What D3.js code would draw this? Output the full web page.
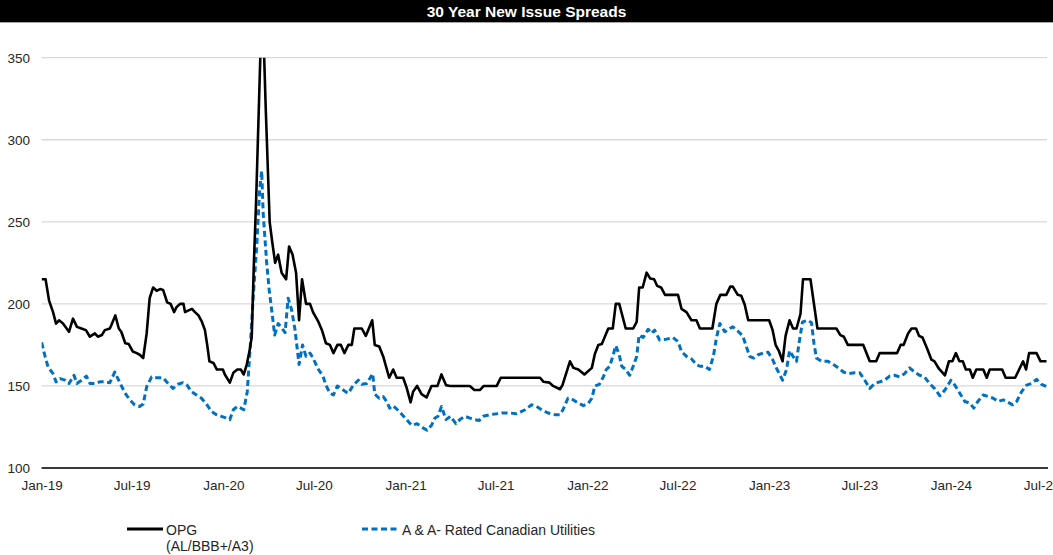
<!DOCTYPE html>
<html>
<head>
<meta charset="utf-8">
<script src="https://cdn.jsdelivr.net/npm/d3@7"></script>
<style>
  html, body { margin: 0; padding: 0; background: #fff; }
  svg { display: block; font-family: "Liberation Sans", Arial, sans-serif; }
</style>
</head>
<body>
<svg id="chart" width="1053" height="555"></svg>
<script>
// ---- data -------------------------------------------------------------
const chartTitle = "30 Year New Issue Spreads";

const yTicks = [100, 150, 200, 250, 300, 350];

const xTickDates = ["2019-01-01", "2019-07-01", "2020-01-01", "2020-07-01", "2021-01-01", "2021-07-01",
                    "2022-01-01", "2022-07-01", "2023-01-01", "2023-07-01", "2024-01-01", "2024-07-01"];
const xTickLabels = ["Jan-19", "Jul-19", "Jan-20", "Jul-20", "Jan-21", "Jul-21",
                     "Jan-22", "Jul-22", "Jan-23", "Jul-23", "Jan-24", "Jul-24"];

const seriesNames = ["OPG", "A & A- Rated Canadian Utilities"];
const opgSubLabel = "(AL/BBB+/A3)";

// OPG (AL/BBB+/A3) new issue spread, bps
const opgDates = [
  "2019-01-01","2019-01-09","2019-01-16","2019-01-24","2019-01-30","2019-02-05","2019-02-13","2019-02-25",
  "2019-03-05","2019-03-13","2019-03-22","2019-03-31","2019-04-08","2019-04-18","2019-04-24","2019-05-02",
  "2019-05-08","2019-05-18","2019-05-21","2019-05-29","2019-06-05","2019-06-10","2019-06-18","2019-06-25",
  "2019-07-03","2019-07-11","2019-07-17","2019-07-24","2019-07-31","2019-08-06","2019-08-13","2019-08-20",
  "2019-08-27","2019-09-02","2019-09-10","2019-09-17","2019-09-24","2019-09-29","2019-10-06","2019-10-13",
  "2019-10-16","2019-10-23","2019-10-30","2019-11-05","2019-11-12","2019-11-19","2019-11-25","2019-11-30",
  "2019-12-04","2019-12-12","2019-12-19","2019-12-31",
  "2020-01-04","2020-01-14","2020-01-21","2020-01-29","2020-02-05","2020-02-11","2020-02-17","2020-02-23",
  "2020-02-27","2020-03-02","2020-03-07","2020-03-19","2020-03-26","2020-04-03","2020-04-08","2020-04-14",
  "2020-04-20","2020-04-27","2020-05-06","2020-05-12","2020-05-19","2020-05-26","2020-06-01","2020-06-07",
  "2020-06-15","2020-06-23","2020-06-29","2020-07-10","2020-07-17","2020-07-25","2020-08-02","2020-08-09",
  "2020-08-17","2020-08-24","2020-08-31","2020-09-08","2020-09-15","2020-09-20","2020-10-05","2020-10-13",
  "2020-10-26","2020-10-31","2020-11-09","2020-11-17","2020-11-29","2020-12-07","2020-12-14","2020-12-27",
  "2021-01-03","2021-01-11","2021-01-16","2021-01-24","2021-02-02","2021-02-12","2021-02-22","2021-03-06",
  "2021-03-14","2021-03-23","2021-03-31","2021-05-10","2021-05-19","2021-05-30","2021-06-07","2021-07-03",
  "2021-07-11","2021-09-28","2021-10-05","2021-10-17","2021-10-24","2021-11-07","2021-11-12","2021-11-27",
  "2021-12-04","2021-12-14","2021-12-26",
  "2022-01-10","2022-01-16","2022-01-23","2022-01-30","2022-02-12","2022-02-21","2022-02-27","2022-03-06",
  "2022-03-19","2022-04-03","2022-04-10","2022-04-15","2022-04-22","2022-04-30","2022-05-07","2022-05-15",
  "2022-05-21","2022-05-29","2022-06-06","2022-07-02","2022-07-09","2022-07-19","2022-07-29","2022-08-08",
  "2022-08-15","2022-09-09","2022-09-17","2022-09-25","2022-10-07","2022-10-15","2022-10-20","2022-10-30",
  "2022-11-06","2022-11-13","2022-11-20",
  "2023-01-01","2023-01-08","2023-01-14","2023-01-21","2023-01-28","2023-02-03","2023-02-11","2023-02-18",
  "2023-02-25","2023-03-05","2023-03-10","2023-03-25","2023-04-08","2023-05-16","2023-05-24","2023-05-31",
  "2023-06-08","2023-07-09","2023-07-22","2023-08-04","2023-08-11","2023-09-15","2023-09-22","2023-09-28",
  "2023-10-07","2023-10-14","2023-10-23","2023-10-29","2023-11-05","2023-11-14","2023-11-23","2023-11-29",
  "2023-12-08","2023-12-20","2023-12-28",
  "2024-01-04","2024-01-11","2024-01-18","2024-01-25","2024-01-31","2024-02-08","2024-02-14","2024-02-21",
  "2024-03-06","2024-03-13","2024-03-19","2024-04-13","2024-04-20","2024-05-09","2024-05-17","2024-05-25",
  "2024-05-31","2024-06-06","2024-06-21","2024-06-29","2024-07-11"
];
const opgValues = [
  215, 215, 202, 195, 188, 190, 188, 183,
  191, 186, 185, 184, 180, 182, 180, 181,
  184, 185, 187, 193, 185, 183, 176, 175.5,
  171, 170, 169, 167, 182, 203.5, 210, 208,
  209, 208.5, 201, 200, 195, 198, 200, 200,
  195, 196, 197, 195, 193, 189, 184, 174,
  165, 164, 160, 160,
  157, 152, 158, 160, 160, 157, 163, 172,
  180, 222, 265, 390, 320, 250, 238, 225,
  230, 219, 215, 235, 230, 219, 190, 215,
  200, 200, 195, 189, 184, 176, 175, 170,
  175, 175, 170, 175, 175, 185, 185, 180.5,
  190, 175, 174, 168, 155, 160, 155, 155,
  149, 140, 146.5, 150, 145, 143, 150, 150,
  157, 150.5, 150, 150, 147.5, 147.5, 150, 150,
  155, 155, 152.5, 152, 150, 148, 150.5, 165,
  161, 160, 157,
  161, 169.5, 175, 175.5, 185, 185, 200, 200,
  185, 185, 189, 210, 210, 219, 215.5, 215,
  211, 210, 205.5, 205.5, 197, 195, 190, 190,
  185, 185, 200, 205.5, 205.5, 210.5, 210.5, 205.5,
  205, 199.5, 190,
  190, 184, 175, 171, 165, 180.5, 190, 185,
  185, 194, 215, 215, 185, 185, 181, 180,
  175, 175, 165, 165, 170, 170, 175, 175,
  182, 185, 185, 180.5, 179.5, 173, 166, 165,
  160.5, 156.5, 165,
  165, 170, 165, 165, 160, 160, 155, 160,
  160, 155, 160, 160, 155, 155, 160, 165,
  160, 170, 170, 165, 165
];

// A & A- rated Canadian utilities new issue spread, bps
const utilDates = [
  "2019-01-01","2019-01-08","2019-01-14","2019-01-24","2019-01-30","2019-02-07","2019-02-17","2019-02-25",
  "2019-03-07","2019-03-13","2019-03-22","2019-04-01","2019-04-08","2019-04-18","2019-04-28","2019-05-08",
  "2019-05-18","2019-05-28","2019-06-07","2019-06-17","2019-06-27","2019-07-07","2019-07-17","2019-07-24",
  "2019-07-31","2019-08-10","2019-08-20","2019-09-02","2019-09-12","2019-09-22","2019-10-02","2019-10-12",
  "2019-10-20","2019-10-29","2019-11-08","2019-11-18","2019-11-28","2019-12-08","2019-12-18","2019-12-28",
  "2020-01-06","2020-01-14","2020-01-21","2020-01-29","2020-02-05","2020-02-11","2020-02-18","2020-02-24",
  "2020-03-01","2020-03-08","2020-03-14","2020-03-18","2020-03-21","2020-03-28","2020-04-02","2020-04-09",
  "2020-04-13","2020-04-20","2020-04-27","2020-05-04","2020-05-10","2020-05-17","2020-05-24","2020-06-01",
  "2020-06-08","2020-06-15","2020-06-23","2020-06-29","2020-07-10","2020-07-19","2020-07-25","2020-08-02",
  "2020-08-09","2020-08-17","2020-08-26","2020-09-05","2020-09-08","2020-09-18","2020-09-28","2020-10-05",
  "2020-10-15","2020-10-27","2020-10-31","2020-11-09","2020-11-17","2020-11-24","2020-11-30","2020-12-07",
  "2020-12-19",
  "2021-01-03","2021-01-13","2021-01-24","2021-02-02","2021-02-13","2021-02-22","2021-03-01","2021-03-07",
  "2021-03-14","2021-03-23","2021-04-01","2021-04-12","2021-04-20","2021-04-30","2021-05-09","2021-05-19",
  "2021-05-29","2021-06-06","2021-06-19","2021-07-03","2021-07-13","2021-07-30","2021-08-12","2021-08-29",
  "2021-09-11","2021-09-21","2021-10-01","2021-10-14","2021-10-28","2021-11-07","2021-11-13","2021-11-23",
  "2021-12-04","2021-12-14","2021-12-24",
  "2022-01-03","2022-01-10","2022-01-16","2022-01-25","2022-02-02","2022-02-08","2022-02-15","2022-02-20",
  "2022-02-27","2022-03-06","2022-03-11","2022-03-19","2022-03-27","2022-04-03","2022-04-10","2022-04-15",
  "2022-04-23","2022-05-03","2022-05-10","2022-05-16","2022-05-26","2022-06-09","2022-06-22","2022-07-02",
  "2022-07-09","2022-07-19","2022-07-29","2022-08-08","2022-08-15","2022-08-25","2022-09-03","2022-09-11",
  "2022-09-17","2022-09-24","2022-10-04","2022-10-14","2022-10-20","2022-10-30","2022-11-09","2022-11-15",
  "2022-11-23","2022-12-01","2022-12-10","2022-12-20","2022-12-30",
  "2023-01-08","2023-01-17","2023-01-28","2023-02-05","2023-02-11","2023-02-18","2023-02-25","2023-03-02",
  "2023-03-09","2023-03-20","2023-03-27","2023-04-01","2023-04-06","2023-04-16","2023-04-29","2023-05-10",
  "2023-05-20","2023-05-30","2023-06-09","2023-06-22","2023-07-02","2023-07-12","2023-07-22","2023-08-01",
  "2023-08-11","2023-08-21","2023-08-31","2023-09-10","2023-09-20","2023-09-30","2023-10-10","2023-10-20",
  "2023-10-30","2023-11-09","2023-11-19","2023-11-29","2023-12-10","2023-12-20",
  "2024-01-01","2024-01-09","2024-01-17","2024-01-29","2024-02-08","2024-02-16","2024-02-24","2024-03-06",
  "2024-03-16","2024-03-26","2024-04-05","2024-04-15","2024-04-25","2024-05-04","2024-05-12","2024-05-22",
  "2024-06-01","2024-06-11","2024-06-21","2024-07-01","2024-07-12"
];
const utilValues = [
  176.5, 168, 161.5, 157.5, 152.5, 154.5, 153.5, 151.5,
  156.5, 151.5, 153.5, 156, 151.5, 151.5, 152.5, 152.5,
  152, 158.5, 152, 146, 141.5, 138.5, 137.5, 139,
  149.5, 155.5, 155, 155, 151.5, 148.5, 151, 152,
  150.5, 146.5, 144.5, 142.5, 139, 134.5, 132.5, 131.5,
  130.5, 129.5, 135.5, 137.5, 136.5, 135.5, 146.5, 174,
  204.5, 235, 270, 281, 255, 225, 208.5, 191.5,
  181, 188, 185.5, 182.5, 203.5, 196.5, 184, 163,
  175, 168, 170, 167, 160, 156, 150.5, 145.5,
  144.5, 150, 148, 146, 145.5, 150.5, 153.5, 151,
  151.5, 157.5, 145, 142.5, 143.5, 140.5, 136.5, 138,
  134.5,
  129.5, 126, 127, 125, 123, 126, 130.5, 131.5,
  137.5, 129.5, 131.5, 127, 129.5, 131.5, 130.5, 129.5,
  129, 131.5, 132.5, 133, 133.5, 133.5, 133, 135.5,
  138.5, 137.5, 135.5, 133.5, 132.5, 132.5, 135.5, 142.5,
  141.5, 139.5, 138,
  139.5, 142.5, 150, 151, 155.5, 160, 162, 167,
  174.5, 169, 162, 160, 156.5, 162, 168, 181,
  179.5, 184.5, 182, 184, 178, 178.5, 179.5, 177,
  171, 168, 166.5, 163, 162, 162, 160, 168,
  179, 188, 183, 185, 186, 183.5, 180.5, 175,
  168, 167, 169, 170, 170.5,
  166, 160, 153.5, 160, 171.5, 168, 165, 176,
  189, 190, 188.5, 176, 167, 165, 165, 163,
  161, 158.5, 157.5, 158, 158, 153.5, 148.5, 151.5,
  152.5, 153.5, 156, 156.5, 155.5, 157.5, 161, 158.5,
  156.5, 155.5, 151.5, 148.5, 144, 147.5,
  153.5, 150.5, 146.5, 140.5, 139.5, 136.5, 140.5, 144.5,
  143.5, 142.5, 140.5, 141.5, 140, 138.5, 140.5, 146.5,
  150.5, 151.5, 154, 151, 149.5
];

// ---- layout -----------------------------------------------------------
const W = 1053, H = 555;
const plot = { left: 41.6, right: 1048, top: 57.7, bottom: 468 };
const FONT = '"Liberation Sans", Arial, sans-serif';
const OPG_COLOR = "#000000";
const UTIL_COLOR = "#0070C0";

const parse = d3.timeParse("%Y-%m-%d");
const opg = opgDates.map((d, i) => ({ date: parse(d), value: opgValues[i] }));
const util = utilDates.map((d, i) => ({ date: parse(d), value: utilValues[i] }));

const svg = d3.select("#chart");

const x = d3.scaleTime()
  .domain([parse("2019-01-01"), parse("2024-07-14")])
  .range([plot.left, plot.right]);
const y = d3.scaleLinear()
  .domain([100, 350])
  .range([plot.bottom, plot.top]);

// title bar
svg.append("rect").attr("x", 0).attr("y", 0).attr("width", W).attr("height", 22).attr("fill", "#000");
svg.append("line").attr("x1", 0).attr("x2", W).attr("y1", 22.5).attr("y2", 22.5)
  .attr("stroke", "#a6a6a6").attr("stroke-width", 1);
svg.append("text")
  .attr("x", W / 2).attr("y", 17)
  .attr("text-anchor", "middle")
  .attr("fill", "#fff")
  .attr("font-weight", "bold")
  .attr("font-size", 15.5)
  .attr("font-family", FONT)
  .text(chartTitle);

// horizontal gridlines
svg.append("g").selectAll("line")
  .data(yTicks.filter(t => t > 100))
  .join("line")
  .attr("x1", plot.left).attr("x2", plot.right - 1)
  .attr("y1", d => y(d)).attr("y2", d => y(d))
  .attr("stroke", "#d9d9d9").attr("stroke-width", 1.3);

// y axis labels
const yAxis = svg.append("g")
  .attr("transform", `translate(${plot.left},0)`)
  .call(d3.axisLeft(y).tickValues(yTicks).tickSize(0).tickPadding(11.6).tickFormat(d3.format("d")));
yAxis.select(".domain").remove();
yAxis.selectAll("text").attr("font-size", 13.5).attr("font-family", FONT).attr("fill", "#262626");

// x axis labels
const tickDates = xTickDates.map(parse);
const xAxis = svg.append("g")
  .attr("transform", `translate(0,${plot.bottom})`)
  .call(d3.axisBottom(x).tickValues(tickDates).tickSize(0).tickPadding(12.5)
    .tickFormat((d, i) => xTickLabels[i]));
xAxis.select(".domain").remove();
xAxis.selectAll("text").attr("font-size", 13.5).attr("font-family", FONT).attr("fill", "#262626");

// baseline at 100
svg.append("line")
  .attr("x1", plot.left).attr("x2", plot.right)
  .attr("y1", y(100)).attr("y2", y(100))
  .attr("stroke", "#3a3a3a").attr("stroke-width", 1.8);

// clip the series to the plot area (spike runs past the 350 ceiling)
svg.append("defs").append("clipPath").attr("id", "plot-clip")
  .append("rect")
  .attr("x", plot.left).attr("y", plot.top)
  .attr("width", plot.right - plot.left + 4).attr("height", plot.bottom - plot.top);

const line = d3.line().x(d => x(d.date)).y(d => y(d.value));
const series = svg.append("g").attr("clip-path", "url(#plot-clip)");

series.append("path")
  .datum(util)
  .attr("d", line)
  .attr("fill", "none")
  .attr("stroke", UTIL_COLOR)
  .attr("stroke-width", 3)
  .attr("stroke-dasharray", "6,3.5")
  .attr("stroke-linejoin", "round");

series.append("path")
  .datum(opg)
  .attr("d", line)
  .attr("fill", "none")
  .attr("stroke", OPG_COLOR)
  .attr("stroke-width", 2.6)
  .attr("stroke-linejoin", "round");

// legend
const legend = svg.append("g").attr("font-family", FONT).attr("font-size", 14).attr("fill", "#262626");
legend.append("line")
  .attr("x1", 127).attr("x2", 163).attr("y1", 529).attr("y2", 529)
  .attr("stroke", OPG_COLOR).attr("stroke-width", 3);
legend.append("text").attr("x", 166).attr("y", 534.5).text(seriesNames[0]);
legend.append("text").attr("x", 166).attr("y", 550.5).text(opgSubLabel);

legend.append("line")
  .attr("x1", 362).attr("x2", 397).attr("y1", 529).attr("y2", 529)
  .attr("stroke", UTIL_COLOR).attr("stroke-width", 3)
  .attr("stroke-dasharray", "6,3.5");
legend.append("text").attr("x", 402).attr("y", 534.5).text(seriesNames[1]);
</script>
</body>
</html>
